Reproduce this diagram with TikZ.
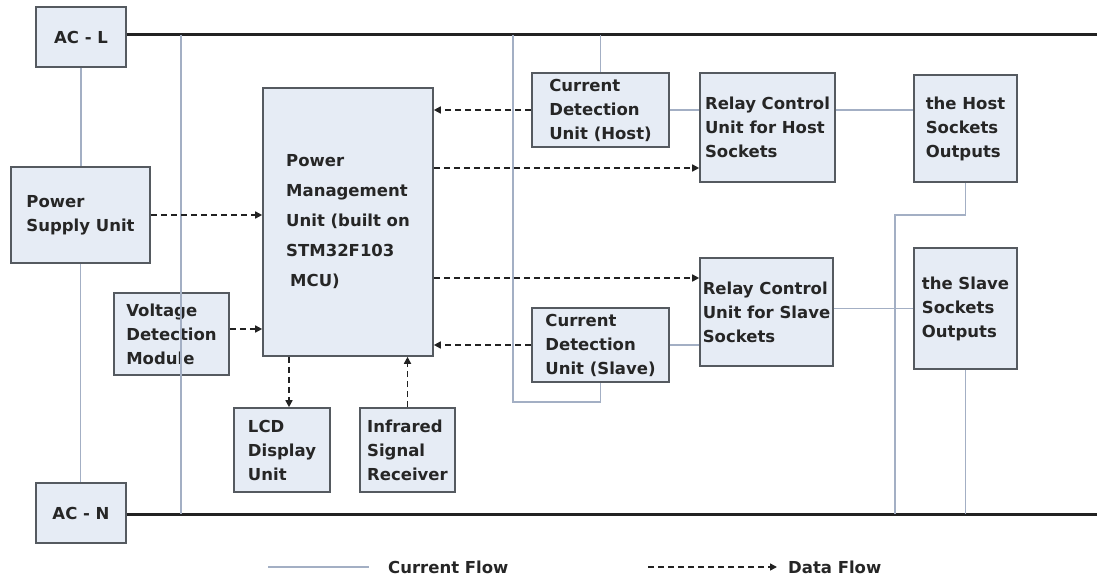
\documentclass[tikz,border=0pt]{standalone}
\usepackage{fontspec}
\setmainfont{DejaVu Sans}
\usetikzlibrary{arrows.meta}
\definecolor{boxfill}{HTML}{E6ECF5}
\definecolor{boxdraw}{HTML}{555A60}
\definecolor{curline}{HTML}{A3AFC4}
\definecolor{busline}{HTML}{222222}
\definecolor{txt}{HTML}{262626}
\tikzset{
  blk/.style={draw=boxdraw, line width=1.6pt, fill=boxfill, inner sep=0pt,
    align=left, text=txt, font=\fontsize{16.5}{24}\selectfont\bfseries},
  cur/.style={draw=curline, line width=1.6pt},
  bus/.style={draw=busline, line width=3pt},
  data/.style={draw=busline, line width=1.6pt, dash pattern=on 6pt off 4pt,
    -{Triangle[length=7pt,width=7pt]}},
  lgd/.style={text=txt, font=\fontsize{16.5}{20}\selectfont\bfseries, anchor=west, inner sep=0pt}
}
\begin{document}
\begin{tikzpicture}[x=1pt,y=-1pt]
\useasboundingbox (0,0) rectangle (1097,580);

% boxes
\node[blk, minimum width=90pt, minimum height=60pt] (acl) at (81,37) {AC - L};
\node[blk, minimum width=90pt, minimum height=60pt] (acn) at (81,513) {AC - N};
\node[blk, minimum width=139pt, minimum height=96pt] (psu) at (80.5,215) {Power\\Supply Unit};
\node[blk, minimum width=170pt, minimum height=268pt, font=\fontsize{16.5}{30}\selectfont\bfseries] (pmu) at (348,222)
  {Power\\Management\\Unit (built on\\STM32F103\\\hspace*{4pt}MCU)};
\node[blk, minimum width=115pt, minimum height=82pt] (vdm) at (171.5,334) {Voltage\\Detection\\Module};
\node[blk, minimum width=96pt, minimum height=84pt] (lcd) at (282,450) {LCD\\Display\\Unit};
\node[blk, minimum width=95pt, minimum height=84pt] (ir) at (407.5,450) {Infrared\\Signal\\Receiver};
\node[blk, minimum width=137pt, minimum height=74pt] (cdh) at (600.5,110) {Current\\Detection\\Unit (Host)};
\node[blk, minimum width=137pt, minimum height=74pt] (cds) at (600.5,345) {Current\\Detection\\Unit (Slave)};
\node[blk, minimum width=135pt, minimum height=109pt] (rh) at (767.5,127.5) {Relay Control\\Unit for Host\\Sockets};
\node[blk, minimum width=133pt, minimum height=108pt] (rs) at (766.5,312) {Relay Control\\Unit for Slave\\Sockets};
\node[blk, minimum width=103pt, minimum height=107pt] (hs) at (965.5,128.5) {the Host\\Sockets\\Outputs};
\node[blk, minimum width=103pt, minimum height=121pt] (ss) at (965.5,308.5) {the Slave\\Sockets\\Outputs};

% reference coordinates
\coordinate (topend) at (1097,35);
\coordinate (botend) at (1097,514);
\coordinate (x181) at (181,0);
\coordinate (x513) at (513,0);
\coordinate (x895) at (895,0);
\coordinate (x289) at (289,0);
\coordinate (y402) at (0,402);
\coordinate (y215) at (0,215);
\coordinate (y168) at (0,168);
\coordinate (y278) at (0,278);
\coordinate (y329) at (0,329);

% main buses
\draw[bus] (acl.east |- topend) -- (topend);
\draw[bus] (acn.east |- botend) -- (botend);

% current flow lines
\draw[cur] (acl.south) -- (acl.south |- psu.north);
\draw[cur] (psu.south) -- (psu.south |- acn.north);
\draw[cur] (x181 |- topend) -- (x181 |- botend);
\draw[cur] (cdh.north |- topend) -- (cdh.north);
\draw[cur] (x513 |- topend) -- (x513 |- y402) -- (cds.south |- y402) -- (cds.south);
\draw[cur] (cdh.east) -- (cdh.east -| rh.west);
\draw[cur] (rh.east |- cdh.east) -- (hs.west |- cdh.east);
\draw[cur] (cds.east) -- (cds.east -| rs.west);
\draw[cur] (rs.east |- ss.west) -- (ss.west);
\draw[cur] (hs.south) -- (hs.south |- y215) -- (x895 |- y215) -- (x895 |- botend);
\draw[cur] (ss.south) -- (ss.south |- botend);

% data flow
\draw[data] (cdh.west) -- (cdh.west -| pmu.east);
\draw[data] (pmu.east |- y168) -- (rh.west |- y168);
\draw[data] (psu.east) -- (psu.east -| pmu.west);
\draw[data] (pmu.east |- y278) -- (rs.west |- y278);
\draw[data] (vdm.east |- y329) -- (pmu.west |- y329);
\draw[data] (cds.west) -- (cds.west -| pmu.east);
\draw[data] (pmu.south -| x289) -- (lcd.north -| x289);
\draw[data] (ir.north) -- (ir.north |- pmu.south);

% legend
\coordinate (lc1) at (268,567);
\coordinate (lc2) at (369,567);
\coordinate (ld1) at (648,567);
\coordinate (ld2) at (777,567);
\draw[cur] (lc1) -- (lc2);
\node[lgd] (lcur) at (388,567) {Current Flow};
\draw[data] (ld1) -- (ld2);
\node[lgd] (ldat) at (788,567) {Data Flow};
\end{tikzpicture}
\end{document}
